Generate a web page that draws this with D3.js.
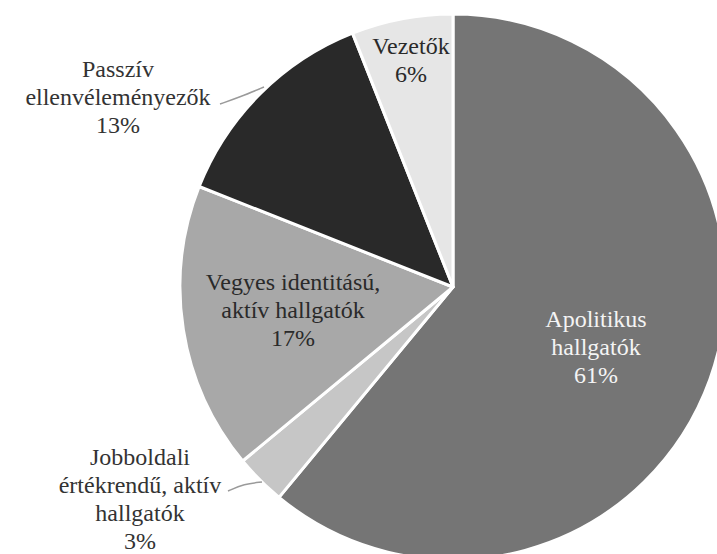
<!DOCTYPE html>
<html>
<head>
<meta charset="utf-8">
<script src="https://cdn.jsdelivr.net/npm/d3@7"></script>
</head>
<body style="margin:0">
<svg class="chart" width="717" height="554"></svg>
<script>
// adatok
var categories = ['Apolitikus hallgatók', 'Jobboldali értékrendű, aktív hallgatók', 'Vegyes identitású, aktív hallgatók', 'Passzív ellenvéleményezők', 'Vezetők'];
var values = [61, 3, 17, 13, 6];
var labelLines = [
  ['Apolitikus', 'hallgatók'],
  ['Jobboldali', 'értékrendű, aktív', 'hallgatók'],
  ['Vegyes identitású,', 'aktív hallgatók'],
  ['Passzív', 'ellenvéleményezők'],
  ['Vezetők']
];

var colors = ['#757575', '#c6c6c6', '#a8a8a8', '#292929', '#e6e6e6'];
var textColors = ['#f4f4f4', '#333', '#2a2a2a', '#333', '#2a2a2a'];

// címke helyek (középpont x, első sor alapvonala)
var labelPos = [
  [596, 327],
  [140, 465],
  [293, 290],
  [118, 77],
  [411, 54]
];
// vezetővonalak (csak a kívül lévő címkékhez)
var leaders = { 1: [[228, 491], [244, 484], [262, 482]], 3: [[220, 104], [240, 97], [264, 87]] };

var cx = 453, cy = 287, radius = 273, lineH = 28;

var svg = d3.select('.chart');

// szövegek először, középre igazítás kézzel a mért szélesség alapján
var texts = [];
values.forEach(function(v, i) {
  var lines = labelLines[i].concat([v + '%']);
  lines.forEach(function(s, j) {
    var t = svg.append('text')
      .attr('x', labelPos[i][0])
      .attr('y', labelPos[i][1] + j * lineH)
      .style('font-family', '"Liberation Serif"')
      .style('font-size', '24px')
      .text(s);
    t.attr('fill', textColors[i]);
    texts.push(t);
  });
});

var g = svg.insert('g', 'text').attr('transform', 'translate(' + cx + ',' + cy + ')');

var pie = d3.pie().sort(null).value(function(d) { return d; });
var arc = d3.arc().innerRadius(0).outerRadius(radius);

g.selectAll('.slice')
  .data(pie(values))
  .enter().append('path')
  .attr('class', 'slice')
  .attr('d', arc)
  .attr('fill', function(d, i) { return colors[i]; })
  .attr('stroke', '#fff')
  .attr('stroke-width', 3)
  .attr('stroke-linejoin', 'round');

var line = d3.line().curve(d3.curveBasis);
Object.keys(leaders).forEach(function(k) {
  svg.insert('path', 'text')
    .attr('d', line(leaders[k]))
    .attr('fill', 'none')
    .attr('stroke', '#9a9a9a')
    .attr('stroke-width', 1.5);
});

texts.forEach(function(t) {
  var w = t.node().getComputedTextLength();
  t.attr('x', +t.attr('x') - w / 2);
});
</script>
</body>
</html>
